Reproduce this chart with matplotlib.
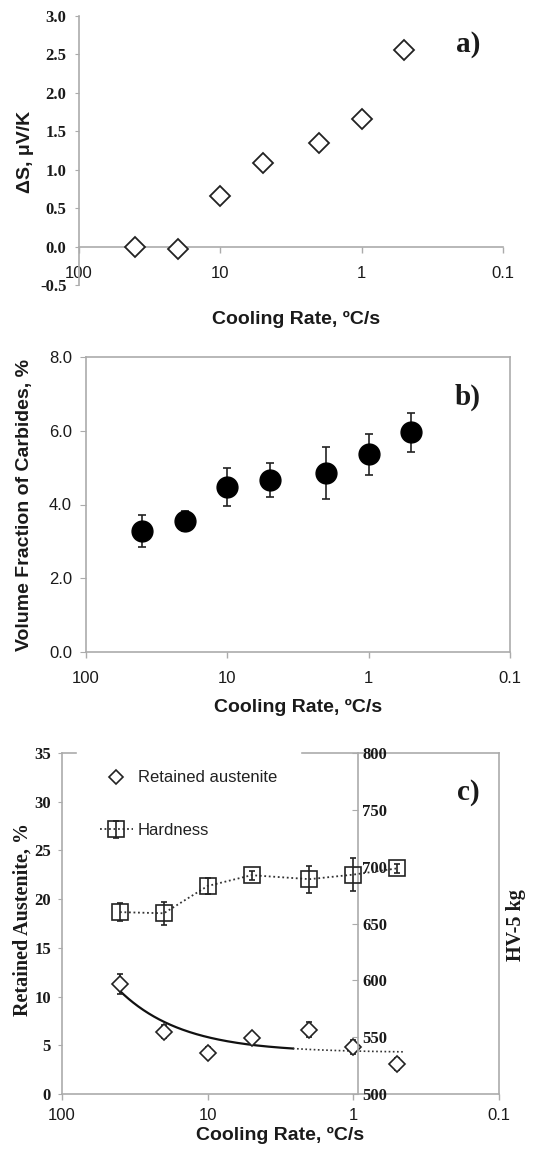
import numpy as np
import matplotlib
matplotlib.use('Agg')
import matplotlib.pyplot as plt
from matplotlib.lines import Line2D

# ---------------- data ----------------
rate = [40, 20, 10, 5, 2, 1, 0.5]
xticks = [100, 10, 1, 0.1]
xticklabels = ['100', '10', '1', '0.1']

# a) thermoelectric power difference
delta_s = [-0.01, -0.03, 0.66, 1.09, 1.35, 1.66, 2.56]
delta_s_err = [0.01, 0.01, 0.01, 0.01, 0.03, 0.01, 0.01]
a_yticks = [-0.5, 0.0, 0.5, 1.0, 1.5, 2.0, 2.5, 3.0]

# b) carbides volume fraction
carbides = [3.28, 3.55, 4.47, 4.66, 4.86, 5.36, 5.96]
carbides_err = [0.43, 0.28, 0.51, 0.47, 0.71, 0.55, 0.53]
b_yticks = [0.0, 2.0, 4.0, 6.0, 8.0]

# c) retained austenite and hardness
ret_aust = [11.3, 6.4, 4.25, 5.7, 6.6, 4.85, 3.1]
ret_aust_err = [1.0, 0.7, 0.6, 0.6, 0.8, 0.7, 0.6]
hardness = [660, 659, 683, 692.5, 689, 693, 698.5]
hardness_err = [8, 10, 7, 4, 12, 14.5, 4]
c_yticks = [0, 5, 10, 15, 20, 25, 30, 35]
c_y2ticks = [500, 550, 600, 650, 700, 750, 800]

SANS = ['Liberation Sans', 'DejaVu Sans']
SERIF = ['Liberation Serif', 'DejaVu Serif']
GRAY = '#ababab'
TXT = '#1a1a1a'

plt.rcParams['font.family'] = SANS
plt.rcParams['text.color'] = TXT

W, H = 534, 1153
fig = plt.figure(figsize=(W / 100, H / 100), dpi=100)


def rect(l, t, r, b):
    return [l / W, 1 - b / H, (r - l) / W, (b - t) / H]


def setup_x(ax, pad):
    ax.set_xscale('log')
    ax.set_xlim(100, 0.1)
    ax.set_xticks(xticks)
    ax.set_xticklabels(xticklabels)
    ax.xaxis.set_minor_locator(matplotlib.ticker.NullLocator())
    ax.tick_params(axis='x', labelsize=12, colors=GRAY, labelcolor=TXT,
                   length=4, width=1, pad=pad)
    for lab in ax.get_xticklabels():
        lab.set_family(SANS)


# ---------------- panel a ----------------
ax1 = fig.add_axes(rect(79, 16, 503, 285))
setup_x(ax1, 10)
ax1.set_ylim(-0.5, 3.0)
ax1.set_yticks(a_yticks)
ax1.set_yticklabels(['%.1f' % v for v in a_yticks])
ax1.tick_params(axis='y', length=3, colors=GRAY, labelcolor=TXT, pad=6)
for lab in ax1.get_yticklabels():
    lab.set_family(SERIF)
    lab.set_weight('bold')
    lab.set_size(12)
ax1.spines['top'].set_visible(False)
ax1.spines['right'].set_visible(False)
ax1.spines['bottom'].set_position(('data', 0))
for s in ('left', 'bottom'):
    ax1.spines[s].set_color(GRAY)
    ax1.spines[s].set_linewidth(1.2)
ax1.errorbar(rate, delta_s, yerr=delta_s_err, fmt='D', ms=10, mfc='white',
             mec='#222222', mew=1.3, ecolor='#222222', elinewidth=1.2,
             capsize=1.5, zorder=5, clip_on=False)
fig.text(296 / W, 1 - 319 / H, 'Cooling Rate, ºC/s', fontsize=14,
         fontweight='bold', ha='center', va='center')
fig.text(25 / W, 1 - 152 / H, 'ΔS, μV/K', rotation=90, fontsize=14,
         fontweight='bold', ha='center', va='center')
fig.text(468 / W, 1 - 45 / H, 'a)', fontsize=21, fontweight='bold',
         family=SERIF, ha='center', va='center')

# ---------------- panel b ----------------
ax2 = fig.add_axes(rect(86, 357, 510, 652))
setup_x(ax2, 10)
ax2.set_ylim(0, 8)
ax2.set_yticks(b_yticks)
ax2.set_yticklabels(['%.1f' % v for v in b_yticks])
ax2.tick_params(axis='y', length=4, colors=GRAY, labelcolor=TXT,
                labelsize=12, pad=6)
for s in ax2.spines.values():
    s.set_color(GRAY)
    s.set_linewidth(1.2)
ax2.errorbar(rate, carbides, yerr=carbides_err, fmt='o', ms=15, mfc='black',
             mec='black', ecolor='#222222', elinewidth=1.2, capsize=3,
             capthick=1.2, zorder=5)
fig.text(298 / W, 1 - 707 / H, 'Cooling Rate, ºC/s', fontsize=14,
         fontweight='bold', ha='center', va='center')
fig.text(25 / W, 1 - 505 / H, 'Volume Fraction of Carbides, %', rotation=90,
         fontsize=14, fontweight='bold', ha='center', va='center')
fig.text(468 / W, 1 - 397 / H, 'b)', fontsize=21, fontweight='bold',
         family=SERIF, ha='center', va='center')

# ---------------- panel c ----------------
ax3 = fig.add_axes(rect(62, 753, 499, 1094))
setup_x(ax3, 6)
ax3.set_ylim(0, 35)
ax3.set_yticks(c_yticks)
ax3.set_yticklabels([str(v) for v in c_yticks])
ax3.tick_params(axis='y', length=3, colors=GRAY, labelcolor=TXT, pad=5)
for lab in ax3.get_yticklabels():
    lab.set_family(SERIF)
    lab.set_weight('bold')
    lab.set_size(12)
for s in ax3.spines.values():
    s.set_color(GRAY)
    s.set_linewidth(1.2)

# retained austenite points
ax3.errorbar(rate, ret_aust, yerr=ret_aust_err, fmt='D', ms=8,
             mfc='white', mec='#222222', mew=1.2, ecolor='#222222',
             elinewidth=1.2, capsize=2, zorder=6)
# linear trendline (fitted from the data), shown on log axis
coef = np.polyfit(rate, ret_aust, 1)
xs_solid = np.geomspace(rate[0], 2.6, 200)
xs_dot = np.geomspace(2.6, 0.45, 50)
ax3.plot(xs_solid, np.polyval(coef, xs_solid), color='#111111', lw=1.6,
         zorder=4)
ax3.plot(xs_dot, np.polyval(coef, xs_dot), color='#333333', lw=1.2,
         ls=(0, (1, 1.5)), zorder=4)

ax3r = ax3.twinx()
ax3r.set_ylim(500, 800)
ax3r.set_yticks(c_y2ticks)
ax3r.set_yticklabels([str(v) for v in c_y2ticks])
for s in ('left', 'top', 'bottom'):
    ax3r.spines[s].set_visible(False)
ax3r.spines['right'].set_position(('axes', 0.678))
ax3r.spines['right'].set_color(GRAY)
ax3r.spines['right'].set_linewidth(1.2)
ax3r.tick_params(axis='y', direction='in', length=4, colors=GRAY,
                 labelcolor=TXT, pad=3)
for lab in ax3r.get_yticklabels():
    lab.set_family(SERIF)
    lab.set_weight('bold')
    lab.set_size(12)
hd = ax3r.errorbar(rate, hardness, yerr=hardness_err, fmt='s', ms=11.5,
                   mfc='none', mec='#222222', mew=1.2, color='#333333',
                   ls=(0, (1, 1.5)), lw=1.3, ecolor='#222222',
                   elinewidth=1.2, capsize=2.5, zorder=6)

ra_proxy = Line2D([], [], ls='none', marker='D', ms=7, mfc='white',
                  mec='#222222', mew=1.2)
leg = ax3r.legend([ra_proxy, hd], ['Retained austenite', 'Hardness'],
                  loc='upper left', bbox_to_anchor=(77 / W, 1 - 748 / H),
                  bbox_transform=fig.transFigure, frameon=True,
                  fancybox=False, edgecolor='white', facecolor='white',
                  framealpha=1, fontsize=12, labelspacing=2.25,
                  handlelength=2.0, handletextpad=0.3, borderpad=1.35,
                  borderaxespad=0)
leg.set_zorder(10)
for t in leg.get_texts():
    t.set_color('#222222')

fig.text(280 / W, 1 - 1135 / H, 'Cooling Rate, ºC/s', fontsize=14,
         fontweight='bold', ha='center', va='center')
fig.text(23 / W, 1 - 920 / H, 'Retained Austenite, %', rotation=90,
         fontsize=14.5, fontweight='bold', family=SERIF,
         ha='center', va='center')
fig.text(516 / W, 1 - 925 / H, 'HV-5 kg', rotation=90, fontsize=14.5,
         fontweight='bold', family=SERIF, ha='center', va='center')
fig.text(468 / W, 1 - 793 / H, 'c)', fontsize=21, fontweight='bold',
         family=SERIF, ha='center', va='center')

fig.savefig('out.png', dpi=100, facecolor='white')
